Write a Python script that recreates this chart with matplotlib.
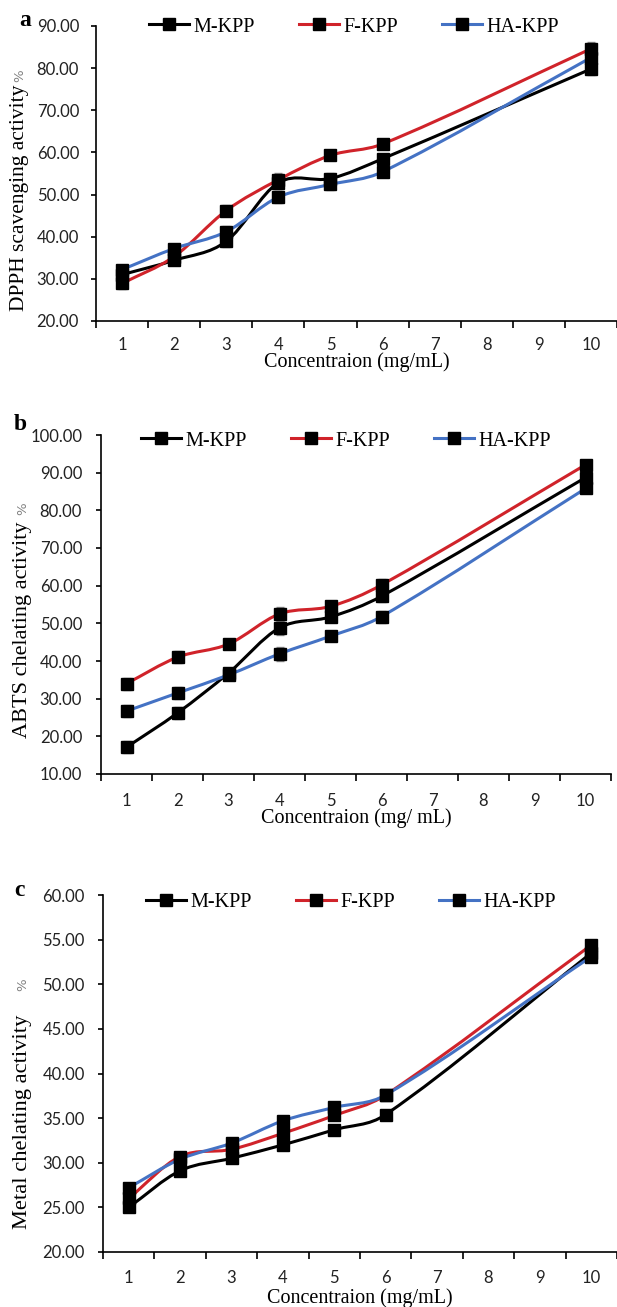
import numpy as np
import matplotlib.pyplot as plt
from matplotlib.path import Path
from matplotlib.patches import PathPatch
from matplotlib.lines import Line2D

# concentration categories (mg/mL) - data exists for 1-6 and 10
conc = [1, 2, 3, 4, 5, 6, 10]
cat_labels = ['1', '2', '3', '4', '5', '6', '7', '8', '9', '10']
series_names = ['M-KPP', 'F-KPP', 'HA-KPP']

# panel a: DPPH scavenging activity %
dpph_m = [31.0, 34.4, 38.9, 52.8, 53.8, 58.5, 79.8]
dpph_f = [28.9, 35.3, 46.2, 53.5, 59.3, 62.0, 84.6]
dpph_ha = [32.2, 37.2, 41.2, 49.4, 52.4, 55.4, 82.5]
dpph_sd = [1.2, 1.0, 1.3, 1.5, 1.2, 1.0, 1.5]

# panel b: ABTS chelating activity %
abts_m = [17.1, 26.2, 36.8, 48.8, 51.7, 57.2, 88.7]
abts_f = [34.0, 41.0, 44.5, 52.5, 54.5, 60.2, 92.1]
abts_ha = [26.7, 31.5, 36.3, 41.9, 46.6, 51.8, 85.8]
abts_sd = [1.6, 1.6, 1.0, 1.8, 1.2, 1.6, 1.2]

# panel c: metal chelating activity %
metal_m = [25.0, 29.1, 30.5, 32.0, 33.7, 35.4, 53.5]
metal_f = [26.0, 30.7, 31.5, 33.3, 35.3, 37.6, 54.4]
metal_ha = [27.2, 30.4, 32.2, 34.7, 36.2, 37.6, 53.1]
metal_sd = [0.5, 0.4, 0.4, 0.5, 0.4, 0.3, 0.4]

colors = ['#000000', '#D0232A', '#4472C4']
W, H = 617, 1307


def smooth_path(x, y):
    # smoothed line through the points (cubic Hermite as Bezier segments)
    x = np.asarray(x, float)
    y = np.asarray(y, float)
    n = len(x)
    m = np.empty(n)
    m[0] = (y[1] - y[0]) / (x[1] - x[0])
    m[-1] = (y[-1] - y[-2]) / (x[-1] - x[-2])
    m[1:-1] = (y[2:] - y[:-2]) / (x[2:] - x[:-2])
    verts = [(x[0], y[0])]
    codes = [Path.MOVETO]
    for i in range(n - 1):
        d = (x[i + 1] - x[i]) / 3
        verts += [(x[i] + d, y[i] + m[i] * d),
                  (x[i + 1] - d, y[i + 1] - m[i + 1] * d),
                  (x[i + 1], y[i + 1])]
        codes += [Path.CURVE4] * 3
    return Path(verts, codes)


def px(x, y):
    return x / W, 1 - y / H


fig = plt.figure(figsize=(W / 100, H / 100), dpi=100)

panels = [
    dict(rect=(96, 26, 617, 321), data=[dpph_m, dpph_f, dpph_ha], sd=dpph_sd,
         ylim=(20, 90), step=10, letter='a', letter_xy=(25, 21),
         ylab='DPPH scavenging activity', ylab_xy=(19.5, 311), ylab_size=15.5,
         pct_y=76, xlab='Concentraion (mg/mL)', xlab_y=362, xpad=11.5,
         ypad=8.6, leg_xy=(354, 27)),
    dict(rect=(101, 435, 611, 774), data=[abts_m, abts_f, abts_ha], sd=abts_sd,
         ylim=(10, 100), step=10, letter='b', letter_xy=(20, 425),
         ylab='ABTS chelating activity', ylab_xy=(23, 738), ylab_size=16,
         pct_y=509, xlab='Concentraion (mg/ mL)', xlab_y=818, xpad=14,
         ypad=10, leg_xy=(346, 441)),
    dict(rect=(103, 895, 617, 1252), data=[metal_m, metal_f, metal_ha], sd=metal_sd,
         ylim=(20, 60), step=5, letter='c', letter_xy=(19.5, 890),
         ylab='Metal chelating activity', ylab_xy=(23, 1229), ylab_size=16.2,
         pct_y=985, xlab='Concentraion (mg/mL)', xlab_y=1298, xpad=13,
         ypad=9.4, leg_xy=(351, 902)),
]

for p in panels:
    x0, y0, x1, y1 = p['rect']
    ax = fig.add_axes([x0 / W, 1 - y1 / H, (x1 - x0) / W, (y1 - y0) / H])
    for vals, c in zip(p['data'], colors):
        ax.errorbar(conc, vals, yerr=p['sd'], fmt='none', ecolor='#8c8c8c',
                    elinewidth=1, capsize=3, zorder=2)
        ax.add_patch(PathPatch(smooth_path(conc, vals), facecolor='none',
                               edgecolor=c, lw=2.2, zorder=3))
        ax.plot(conc, vals, ls='none', marker='s', ms=8, mfc='black',
                mec='black', zorder=4)
    ax.set_xlim(0.5, 10.5)
    ax.set_ylim(*p['ylim'])
    ax.set_yticks(np.arange(p['ylim'][0], p['ylim'][1] + 0.1, p['step']))
    ax.set_yticklabels(['%.2f' % v for v in ax.get_yticks()])
    ax.set_xticks(range(1, 11))
    ax.set_xticklabels(cat_labels)
    ax.set_xticks(np.arange(0.5, 11, 1), minor=True)
    ax.tick_params(axis='x', which='major', length=0, pad=p['xpad'])
    ax.tick_params(axis='x', which='minor', length=5, width=1.2, direction='out')
    ax.tick_params(axis='y', length=3.6, width=1.2, pad=p['ypad'])
    for lab in ax.get_xticklabels() + ax.get_yticklabels():
        lab.set_fontfamily('Lato')
        lab.set_fontsize(12)
        lab.set_color('#222222')
    for s in ['top', 'right']:
        ax.spines[s].set_visible(False)
    for s in ['left', 'bottom']:
        ax.spines[s].set_linewidth(1.2)

    handles = [Line2D([], [], color=c, lw=2.2, marker='s', ms=8, mfc='black',
                      mec='black') for c in colors]
    ax.legend(handles, series_names, ncol=3, frameon=False, loc='center',
              bbox_to_anchor=px(*p['leg_xy']), bbox_transform=fig.transFigure,
              prop=dict(family='Liberation Serif', size=14.5),
              handlelength=2.0, handletextpad=0.2, columnspacing=2.2,
              borderaxespad=0)

    fig.text(*px(*p['letter_xy']), p['letter'], family='Liberation Serif',
             weight='bold', size=17, ha='center', va='center')
    fig.text(*px(*p['ylab_xy']), p['ylab'], family='Liberation Serif',
             size=p['ylab_size'], rotation=90, ha='center', va='bottom')
    fig.text(*px(p['ylab_xy'][0], p['pct_y']), '%', family='DejaVu Sans',
             size=9.5, color='#808080', rotation=90, ha='center', va='center')
    fig.text(*px((x0 + x1) / 2, p['xlab_y']), p['xlab'],
             family='Liberation Serif', size=14.5, ha='center', va='center')

fig.savefig('out.png', dpi=100)
